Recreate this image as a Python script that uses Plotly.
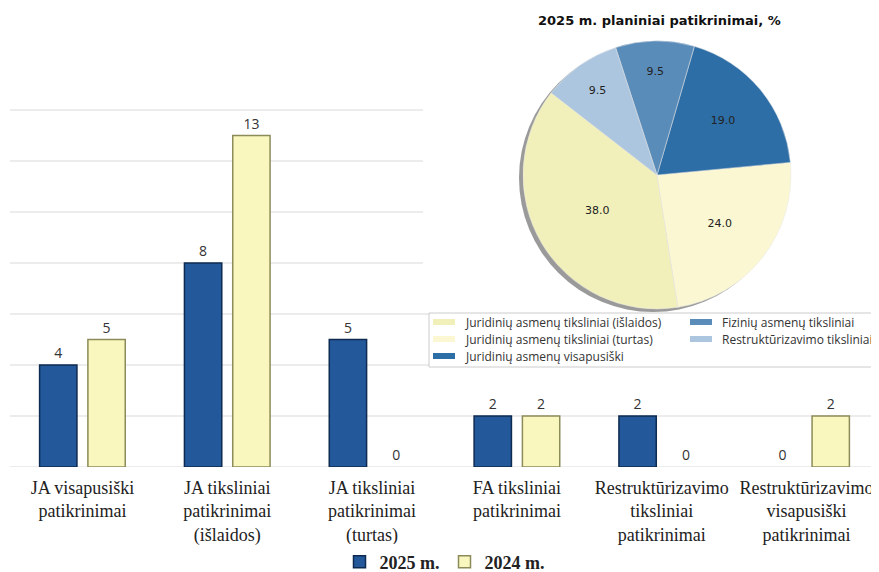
import plotly.graph_objects as go

# ---------------- data ----------------
categories = [
    "JA visapusiški<br>patikrinimai",
    "JA tiksliniai<br>patikrinimai<br>(išlaidos)",
    "JA tiksliniai<br>patikrinimai<br>(turtas)",
    "FA tiksliniai<br>patikrinimai",
    "Restruktūrizavimo<br>tiksliniai<br>patikrinimai",
    "Restruktūrizavimo<br>visapusiški<br>patikrinimai",
]
values_2025 = [4, 8, 5, 2, 2, 0]
values_2024 = [5, 13, 0, 2, 0, 2]
series_names = ["2025 m.", "2024 m."]
grid_values = [0, 2, 4, 6, 8, 10, 12, 14]

pie_title = "2025 m. planiniai patikrinimai, %"
pie_labels = [
    "Juridinių asmenų tiksliniai (išlaidos)",
    "Juridinių asmenų tiksliniai (turtas)",
    "Juridinių asmenų visapusiški",
    "Fizinių asmenų tiksliniai",
    "Restruktūrizavimo tiksliniai",
]
pie_values = [38.0, 24.0, 19.0, 9.5, 9.5]
pie_colors = ["#F2F0BA", "#FAF7D2", "#2E6EA6", "#5A8CBA", "#ADC6DF"]

# ---------------- geometry helpers ----------------
# The page places the figure 8px in from the top-left corner; positions below
# are given in screen pixels and shifted by that offset.
OFF = 8
W_FIG, H_FIG = 879 - OFF, 572 - OFF
ML, MR, MT = 10 - OFF, 0, 0
BASE_Y = 467 - OFF            # screen y of the bar baseline
MB = H_FIG - BASE_Y
PW = W_FIG - ML - MR
PH = H_FIG - MT - MB
Y_MAX = 14.3
UNIT_PX = (467 - 110) / 14.0   # pixels per count on the bar axis


def px(x):
    return (x - OFF - ML) / PW


def py(y):
    return (PH - (y - OFF - MT)) / PH


def edge_widths(vals):
    return [1.5 if v > 0 else 0 for v in vals]


fig = go.Figure()

# ---------------- bars ----------------
fig.add_trace(go.Bar(
    x=categories, y=values_2025, name=series_names[0],
    marker=dict(color="#23599B",
                line=dict(color="#0E2A50", width=edge_widths(values_2025))),
    text=values_2025, textposition="outside", cliponaxis=False,
    textfont=dict(family="Open Sans", size=14, color="#333333"),
))
fig.add_trace(go.Bar(
    x=categories, y=values_2024, name=series_names[1],
    marker=dict(color="#F9F7BE",
                line=dict(color="#8C8B5A", width=edge_widths(values_2024))),
    text=values_2024, textposition="outside", cliponaxis=False,
    textfont=dict(family="Open Sans", size=14, color="#333333"),
))

# ---------------- pie (with soft shadow) ----------------
cx, cy, r = 657, 175, 134
dom_x = [px(cx - r), px(cx + r)]
dom_y = [py(cy + r), py(cy - r)]
sh_dx, sh_dy = -4, 3
fig.add_trace(go.Pie(
    values=[1], labels=["shadow"], showlegend=False, hoverinfo="skip",
    textinfo="none", sort=False,
    marker=dict(colors=["#9a9a9a"], line=dict(width=0)),
    domain=dict(x=[px(cx - r + sh_dx), px(cx + r + sh_dx)],
                y=[py(cy + r + sh_dy), py(cy - r + sh_dy)]),
))
fig.add_trace(go.Pie(
    values=pie_values, labels=pie_labels, showlegend=False, sort=False,
    direction="counterclockwise", rotation=171,
    marker=dict(colors=pie_colors, line=dict(color="#e8e8e8", width=0.5)),
    texttemplate="%{value:.1f}", textposition="inside",
    insidetextorientation="horizontal",
    textfont=dict(family="DejaVu Sans", size=11, color="#222222"),
    domain=dict(x=dom_x, y=dom_y),
))

shapes = []
annotations = []

# horizontal grid lines (the upper ones stop where the pie panel begins)
for gv in grid_values:
    x_end = px(423) if gv >= 8 else 1.0
    shapes.append(dict(type="line", xref="paper", yref="y", x0=0, x1=x_end,
                       y0=gv, y1=gv, line=dict(color="#d9d9d9", width=1),
                       layer="below"))

# ---------------- pie legend (drawn box with entries) ----------------
shapes.append(dict(type="rect", xref="paper", yref="paper",
                   x0=px(429), x1=px(878), y0=py(367), y1=py(313),
                   fillcolor="white", line=dict(color="#cccccc", width=1),
                   layer="above"))
leg_pos = [(433, 322), (433, 339), (433, 356), (690, 322), (690, 339)]
for (lx, ly), lab, col in zip(leg_pos, pie_labels, pie_colors):
    shapes.append(dict(type="rect", xref="paper", yref="paper",
                       x0=px(lx), x1=px(lx + 22), y0=py(ly + 3), y1=py(ly - 3),
                       fillcolor=col, line=dict(width=0), layer="above"))
    annotations.append(dict(xref="paper", yref="paper", x=px(lx + 30), y=py(ly),
                            text=lab, showarrow=False, xanchor="left",
                            yanchor="middle",
                            font=dict(family="Open Sans", size=12, color="#333333")))

annotations.append(dict(xref="paper", yref="paper", x=px(cx + 2), y=py(20),
                        text="<b>" + pie_title + "</b>", showarrow=False,
                        xanchor="center", yanchor="middle",
                        font=dict(family="DejaVu Sans", size=13, color="#111111")))

fig.update_layout(
    width=W_FIG, height=H_FIG,
    margin=dict(l=ML, r=MR, t=MT, b=MB, autoexpand=False),
    paper_bgcolor="white", plot_bgcolor="white",
    barmode="group", bargap=0.333, bargroupgap=0.227,
    showlegend=True,
    legend=dict(orientation="h", x=0.5, xanchor="center", y=py(562),
                yanchor="middle", font=dict(family="Liberation Serif", size=18,
                                            color="#222222", weight="bold"),
                itemwidth=30, traceorder="normal"),
    xaxis=dict(type="category", range=[-0.5, 5.5], showgrid=False,
               showline=False, ticks="", zeroline=False, automargin=False,
               ticklabelstandoff=8,
               tickfont=dict(family="Liberation Serif", size=18, color="#222222")),
    yaxis=dict(range=[0, Y_MAX], tickvals=grid_values,
               showticklabels=False, showgrid=False, automargin=False,
               zeroline=False,
               domain=[0, py(467 - Y_MAX * UNIT_PX)]),
    shapes=shapes, annotations=annotations,
)

fig.write_html("out.html")
